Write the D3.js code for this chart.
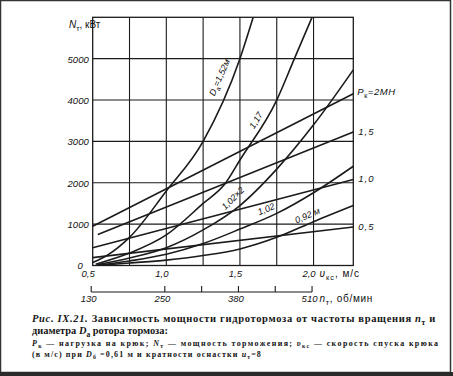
<!DOCTYPE html>
<html>
<head>
<meta charset="utf-8">
<script src="https://cdn.jsdelivr.net/npm/d3@7"></script>
<style>
  html, body { margin: 0; padding: 0; background: #fff; }
  svg { display: block; }
  .plot-text { font-family: "Liberation Sans", Arial, sans-serif; font-style: italic; font-size: 9.5px; fill: #111; }
  .caption { font-family: "Liberation Serif", serif; font-weight: bold; fill: #151515; }
</style>
</head>
<body>
<div id="chart"></div>
<script>
// speed of hook lowering, m/s
const SPEED_TICKS = [0.5, 1.0, 1.5, 2.0];
const SPEED_LABELS = ["0,5", "1,0", "1,5", "2,0"];
const SPEED_GRID = [0.75, 1.0, 1.25, 1.5, 1.75, 2.0];
// braking power, kW
const POWER_TICKS = [0, 1000, 2000, 3000, 4000, 5000];
const POWER_GRID = [1000, 2000, 3000, 4000, 5000];
// rotor speed, rpm (second scale)
const RPM_TICK_SPEEDS = [0.5, 1.0, 1.25, 1.5, 1.75, 2.0];
const RPM_LABEL_SPEEDS = [0.5, 1.0, 1.5, 2.0];
const RPM_LABELS = ["130", "250", "380", "510"];

// hook load lines P_k
const LOAD_LABELS = ["2МН", "1,5", "1,0", "0,5"];
const LOAD_SPEEDS = [[0.5, 2.27], [0.535, 2.27], [0.5, 2.27], [0.5, 2.27]];
const LOAD_POWER = [[950, 4150], [750, 3230], [430, 2080], [190, 930]];

// rotor diameter curves D_a
const ROTOR_LABELS = ["1,52м", "1,17", "1,02×2", "1,02", "0,92 м"];
const ROTOR_SPEEDS = [
  [0.5, 0.6, 0.75, 1.0, 1.25, 1.5, 1.59],
  [0.52, 0.75, 1.0, 1.25, 1.4, 1.5, 1.75, 1.87, 1.99],
  [0.53, 0.75, 1.0, 1.25, 1.5, 1.75, 2.0, 2.27],
  [0.54, 0.75, 1.0, 1.25, 1.5, 1.75, 2.0, 2.27],
  [0.55, 0.75, 1.0, 1.25, 1.5, 1.75, 2.0, 2.27],
];
const ROTOR_POWER = [
  [70, 250, 680, 1800, 3000, 5000, 6000],
  [30, 300, 740, 1500, 1980, 2550, 4000, 5000, 6000],
  [15, 180, 430, 860, 1450, 2330, 3400, 4730],
  [8, 110, 270, 530, 880, 1260, 1760, 2400],
  [5, 60, 130, 240, 400, 680, 1060, 1450],
];

// where the curve labels sit: speed along the curve and offset from it (px)
const ROTOR_LABEL_AT = [
  { v: 1.43, off: 11 },
  { v: 1.65, off: 7 },
  { v: 1.5, off: 10 },
  { v: 1.7, off: 8 },
  { v: 1.98, off: 8 },
];

const WIDTH = 453;
const HEIGHT = 376;
const plot = { left: 92.7, right: 353.3, top: 17.3, bottom: 265.5 };
const INK = "#1b1b1b";

// parts: [string, kind] with kind "i" italic, "n" upright, "sub" upright subscript
function richText(parent, x, y, parts, cls, size) {
  const text = parent.append("text").attr("class", cls).attr("x", x).attr("y", y).style("font-size", `${size}px`);
  const shift = size * 0.3;
  let lowered = false;
  parts.forEach(([str, kind]) => {
    const span = text.append("tspan").text(str);
    if (kind === "sub") {
      span.style("font-size", `${size * 0.72}px`).style("font-style", "normal");
      if (!lowered) span.attr("dy", shift);
      lowered = true;
      return;
    }
    if (lowered) span.attr("dy", -shift);
    lowered = false;
    if (kind === "i") span.style("font-style", "italic");
    if (kind === "n") span.style("font-style", "normal");
  });
  return text;
}

// bring a caption line to the given width: squeeze it horizontally or spread its letters
function fitText(text, width) {
  const node = text.node();
  const box = node.getBBox();
  const x0 = box.x;
  if (box.width > width) {
    const k = width / box.width;
    text.attr("transform", `translate(${x0}, 0) scale(${k}, 1) translate(${-x0}, 0)`);
  } else {
    const chars = node.textContent.length;
    text.style("letter-spacing", `${(width - box.width) / chars}px`);
    const after = node.getBBox().width;
    if (after > width) {
      const k = width / after;
      text.attr("transform", `translate(${x0}, 0) scale(${k}, 1) translate(${-x0}, 0)`);
    }
  }
  return text;
}

function pointOnCurve(xs, ys, v, x, y) {
  let i = d3.bisectRight(xs, v) - 1;
  i = Math.max(0, Math.min(xs.length - 2, i));
  const t = (v - xs[i]) / (xs[i + 1] - xs[i]);
  const px = x(v);
  const py = y(ys[i] + t * (ys[i + 1] - ys[i]));
  const angle = Math.atan2(y(ys[i + 1]) - y(ys[i]), x(xs[i + 1]) - x(xs[i]));
  return { px, py, angle };
}

function renderChart() {
  const svg = d3.select("#chart").append("svg").attr("width", WIDTH).attr("height", HEIGHT);

  const x = d3.scaleLinear().domain([0.5, 2.27]).range([plot.left, plot.right]);
  const y = d3.scaleLinear().domain([0, 6000]).range([plot.bottom, plot.top]);

  // scan border
  svg.append("rect").attr("x", 0.5).attr("y", 0.5).attr("width", WIDTH - 3).attr("height", HEIGHT - 4)
    .attr("fill", "none").attr("stroke", "#333").attr("stroke-width", 1.5);
  svg.append("rect").attr("x", 0).attr("y", HEIGHT - 4).attr("width", WIDTH).attr("height", 4).attr("fill", "#2a2a2a");

  // grid
  const grid = svg.append("g").attr("stroke", INK).attr("stroke-width", 1.1);
  grid.selectAll(".vg").data(SPEED_GRID).join("line")
    .attr("x1", (d) => x(d)).attr("x2", (d) => x(d)).attr("y1", plot.top).attr("y2", plot.bottom);
  grid.selectAll(".hg").data(POWER_GRID).join("line")
    .attr("x1", plot.left).attr("x2", plot.right).attr("y1", (d) => y(d)).attr("y2", (d) => y(d));
  svg.append("rect").attr("x", plot.left).attr("y", plot.top)
    .attr("width", plot.right - plot.left).attr("height", plot.bottom - plot.top)
    .attr("fill", "none").attr("stroke", INK).attr("stroke-width", 1.3);

  // y axis
  svg.append("g")
    .attr("transform", `translate(${plot.left}, 0)`)
    .call(d3.axisLeft(y).tickValues(POWER_TICKS).tickSize(0).tickPadding(4).tickFormat((d) => String(d)))
    .call((g) => g.select(".domain").remove())
    .call((g) => g.selectAll("text")
      .attr("class", "plot-text").attr("font-size", null).attr("font-family", null)
      .attr("dy", "0.36em")
      .attr("dx", (d) => (d === 0 ? -6 : 0)));

  richText(svg, 69, 28, [["N", "i"], ["т", "sub"], [", кВт", "n"]], "plot-text", 10);

  // speed labels under the frame
  svg.append("g").selectAll("text").data(SPEED_TICKS).join("text")
    .attr("class", "plot-text").attr("x", (d) => x(d) - 4.5).attr("y", 277).attr("text-anchor", "middle")
    .text((d, i) => SPEED_LABELS[i]);
  richText(svg, x(2.0) + 6, 277, [["υ", "i"], ["кс", "sub"], [", м/с", "n"]], "plot-text", 10)
    .style("letter-spacing", "1px");

  // rpm scale
  const rpmY = 292;
  svg.append("line").attr("x1", x(0.5) - 1.5).attr("x2", x(2.0) - 1.5).attr("y1", rpmY).attr("y2", rpmY)
    .attr("stroke", INK).attr("stroke-width", 1.1);
  svg.append("g").selectAll("line").data(RPM_TICK_SPEEDS).join("line")
    .attr("x1", (d) => x(d) - 1.5).attr("x2", (d) => x(d) - 1.5).attr("y1", rpmY - 6).attr("y2", rpmY)
    .attr("stroke", INK).attr("stroke-width", 1.1);
  svg.append("g").selectAll("text").data(RPM_LABEL_SPEEDS).join("text")
    .attr("class", "plot-text").attr("x", (d) => x(d) - 4).attr("y", rpmY + 10).attr("text-anchor", "middle")
    .text((d, i) => RPM_LABELS[i]);
  richText(svg, x(2.0) + 6, rpmY + 10, [["n", "i"], ["т", "sub"], [", об/мин", "n"]], "plot-text", 10)
    .style("letter-spacing", "0.7px");

  // curves
  svg.append("defs").append("clipPath").attr("id", "plot-clip").append("rect")
    .attr("x", plot.left).attr("y", plot.top).attr("width", plot.right - plot.left).attr("height", plot.bottom - plot.top);
  const curves = svg.append("g").attr("clip-path", "url(#plot-clip)")
    .attr("fill", "none").attr("stroke", INK).attr("stroke-width", 1.6);

  const straight = d3.line().x((d) => x(d[0])).y((d) => y(d[1]));
  curves.selectAll(".load").data(LOAD_LABELS).join("path")
    .attr("d", (d, i) => straight(d3.zip(LOAD_SPEEDS[i], LOAD_POWER[i])));

  const smooth = d3.line().x((d) => x(d[0])).y((d) => y(d[1])).curve(d3.curveMonotoneX);
  curves.selectAll(".rotor").data(ROTOR_LABELS).join("path")
    .attr("d", (d, i) => smooth(d3.zip(ROTOR_SPEEDS[i], ROTOR_POWER[i])));

  // load labels on the right
  LOAD_LABELS.forEach((label, i) => {
    const py = y(LOAD_POWER[i][1]) + 3;
    if (i === 0) {
      richText(svg, plot.right + 4, py - 2, [["P", "i"], ["к", "sub"], ["=2МН", "i"]], "plot-text", 9.5)
        .style("letter-spacing", "0.6px");
    } else {
      svg.append("text").attr("class", "plot-text").attr("x", plot.right + 5).attr("y", py)
        .style("letter-spacing", "1px").text(label);
    }
  });

  // rotor labels along their curves
  ROTOR_LABELS.forEach((label, i) => {
    const at = ROTOR_LABEL_AT[i];
    const p = pointOnCurve(ROTOR_SPEEDS[i], ROTOR_POWER[i], at.v, x, y);
    const cx = p.px + at.off * Math.sin(p.angle);
    const cy = p.py - at.off * Math.cos(p.angle);
    const parts = i === 0 ? [["D", "i"], ["а", "sub"], ["=" + label, "i"]] : [[label, "i"]];
    richText(svg, 0, 0, parts, "plot-text", 9)
      .attr("text-anchor", "middle")
      .attr("dominant-baseline", "central")
      .attr("transform", `translate(${cx}, ${cy}) rotate(${(p.angle * 180) / Math.PI})`);
  });

  // caption
  fitText(richText(svg, 32, 322, [["Рис. IX.21. ", "i"], ["Зависимость мощности гидротормоза от частоты вращения ", "n"], ["n", "i"], ["т", "sub"], [" и", "n"]], "caption", 10.5), 404);
  fitText(richText(svg, 32, 334, [["диаметра ", "n"], ["D", "i"], ["а", "sub"], [" ротора тормоза:", "n"]], "caption", 10.5), 136);
  fitText(richText(svg, 32, 346, [["P", "i"], ["к", "sub"], [" — нагрузка на крюк; ", "n"], ["N", "i"], ["т", "sub"], [" — мощность торможения; ", "n"], ["υ", "i"], ["кс", "sub"], [" — скорость спуска крюка", "n"]], "caption", 8), 408);
  fitText(richText(svg, 32, 357, [["(в м/с) при ", "n"], ["D", "i"], ["б", "sub"], [" =0,61 м и кратности оснастки ", "n"], ["u", "i"], ["т", "sub"], ["=8", "n"]], "caption", 8), 230);
}

renderChart();
</script>
</body>
</html>
